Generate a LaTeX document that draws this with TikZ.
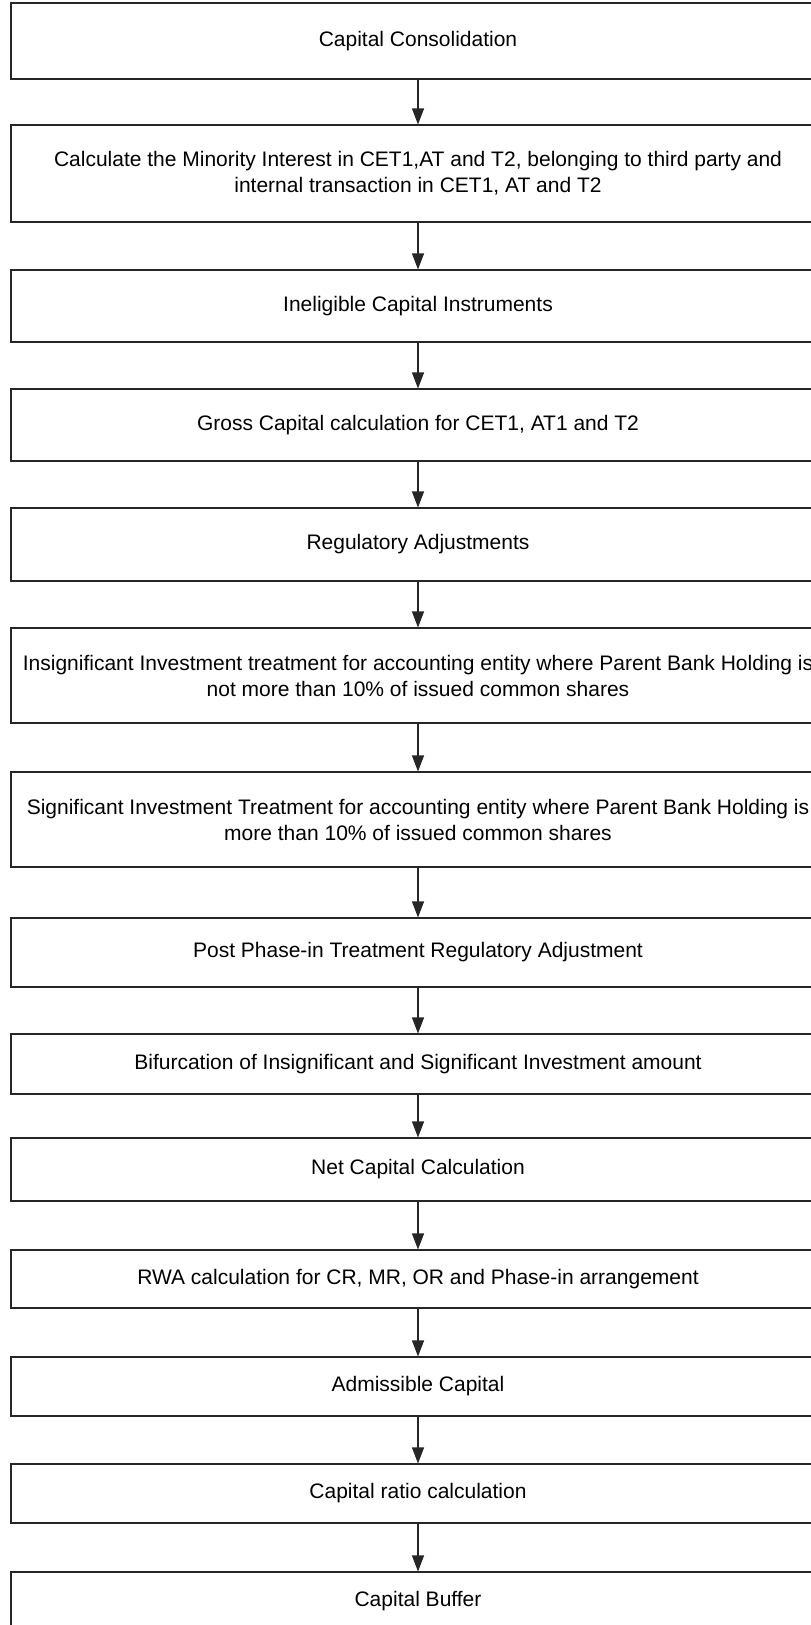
\documentclass[tikz,border=0pt]{standalone}
\usepackage{fontspec}
\setmainfont{Liberation Sans}
\usetikzlibrary{arrows.meta}
\tikzset{
  box/.style={draw=black!85, line width=1.1pt, minimum width=814pt, inner sep=0pt,
    align=center, font=\fontsize{21}{26}\selectfont, text=black},
  arr/.style={draw=black!85, line width=1.1pt, -{Triangle[width=12pt,length=16pt]}}
}
\begin{document}
\begin{tikzpicture}[x=1pt,y=-1pt]
\useasboundingbox (0,0) rectangle (811,1625);
\clip (0,0) rectangle (811,1625);
\fill[white] (0,0) rectangle (811,1625);
\node[box, minimum height=76pt] (b1) at (418,41) {Capital Consolidation};
\node[box, minimum height=97pt] (b2) at (418,173.5) {Calculate the Minority Interest in CET1,AT and T2, belonging to third party and\\internal transaction in CET1, AT and T2};
\node[box, minimum height=72pt] (b3) at (418,306) {Ineligible Capital Instruments};
\node[box, minimum height=72pt] (b4) at (418,425) {Gross Capital calculation for CET1, AT1 and T2};
\node[box, minimum height=73pt] (b5) at (418,544.5) {Regulatory Adjustments};
\node[box, minimum height=95pt] (b6) at (418,675.5) {Insignificant Investment treatment for accounting entity where Parent Bank Holding is\\not more than 10\% of issued common shares};
\node[box, minimum height=95pt] (b7) at (418,819.5) {Significant Investment Treatment for accounting entity where Parent Bank Holding is\\more than 10\% of issued common shares};
\node[box, minimum height=69pt] (b8) at (418,952.5) {Post Phase-in Treatment Regulatory Adjustment};
\node[box, minimum height=60pt] (b9) at (418,1064) {Bifurcation of Insignificant and Significant Investment amount};
\node[box, minimum height=63pt] (b10) at (418,1169.5) {Net Capital Calculation};
\node[box, minimum height=58pt] (b11) at (418,1279) {RWA calculation for CR, MR, OR and Phase-in arrangement};
\node[box, minimum height=59pt] (b12) at (418,1386.5) {Admissible Capital};
\node[box, minimum height=59pt] (b13) at (418,1493.5) {Capital ratio calculation};
\node[box, minimum height=59pt] (b14) at (418,1601.5) {Capital Buffer};
\foreach \a/\b in {b1/b2,b2/b3,b3/b4,b4/b5,b5/b6,b6/b7,b7/b8,b8/b9,b9/b10,b10/b11,b11/b12,b12/b13,b13/b14}
  \draw[arr] (\a.south) -- (\b.north);
\end{tikzpicture}
\end{document}
